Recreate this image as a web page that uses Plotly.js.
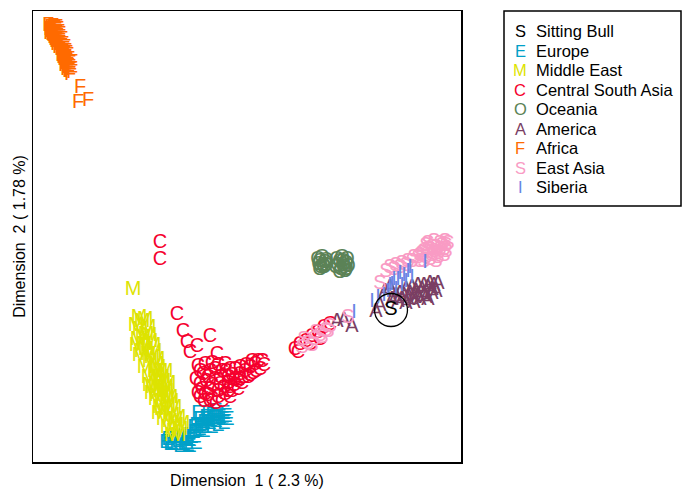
<!DOCTYPE html>
<html>
<head>
<meta charset="utf-8">
<script src="https://cdn.plot.ly/plotly-3.0.1.min.js"></script>
<style>html,body{margin:0;padding:0;background:#fff}#chart{width:687px;height:489px}</style>
</head>
<body>
<div id="chart"></div>
<script>
// ---- data (Dimension 1, Dimension 2) ----
const groupNames = ["Sitting Bull","Europe","Middle East","Central South Asia","Oceania","America","Africa","East Asia","Siberia"];
const groupLetters = ["S","E","M","C","O","A","F","S","I"];

const sittingBullX = [0.141];
const sittingBullY = [-0.010];

const europeX = [-0.082,-0.078,-0.072,-0.066,-0.060,-0.076,-0.068,-0.062,-0.056,-0.054,-0.050,-0.044,-0.038,-0.032,-0.026,-0.048,-0.040,-0.034,-0.028,-0.044,-0.052,-0.064,-0.074,-0.080,
  -0.084,-0.070,-0.062,-0.058,-0.052,-0.056,-0.050,-0.046,-0.042,-0.036,-0.030,-0.024,-0.022,-0.038,-0.032,-0.026,-0.050,-0.054,-0.060,-0.070,-0.064,-0.042,-0.034,-0.046];
const europeY = [-0.140,-0.144,-0.142,-0.145,-0.141,-0.137,-0.138,-0.136,-0.133,-0.126,-0.120,-0.118,-0.116,-0.116,-0.114,-0.128,-0.124,-0.122,-0.120,-0.128,-0.114,-0.144,-0.145,-0.145,
  -0.143,-0.147,-0.146,-0.138,-0.132,-0.128,-0.126,-0.123,-0.120,-0.119,-0.118,-0.117,-0.120,-0.128,-0.126,-0.124,-0.130,-0.144,-0.147,-0.138,-0.140,-0.114,-0.112,-0.132];

const middleEastX = [-0.117,-0.108,-0.110,-0.104,-0.112,-0.106,-0.100,-0.108,-0.102,-0.096,-0.100,-0.094,-0.092,-0.095,-0.094,-0.088,-0.092,-0.090,-0.084,-0.089,-0.086,-0.080,-0.088,-0.082,-0.076,-0.084,-0.078,-0.072,-0.080,-0.074,-0.070,-0.076,-0.094,-0.090,-0.085,-0.082,
  -0.111,-0.105,-0.102,-0.114,-0.107,-0.101,-0.113,-0.097,-0.110,-0.104,-0.098,-0.093,-0.105,-0.090,-0.101,-0.087,-0.097,-0.093,-0.084,-0.098,-0.088,-0.079,-0.091,-0.086,-0.075,-0.082,-0.078,-0.072,-0.068,-0.083,-0.094,-0.100];
const middleEastY = [0.010,-0.022,-0.030,-0.035,-0.040,-0.045,-0.042,-0.052,-0.055,-0.052,-0.062,-0.065,-0.068,-0.072,-0.076,-0.078,-0.082,-0.086,-0.088,-0.092,-0.096,-0.098,-0.102,-0.106,-0.108,-0.112,-0.116,-0.118,-0.122,-0.126,-0.130,-0.132,-0.100,-0.108,-0.072,-0.084,
  -0.018,-0.020,-0.028,-0.026,-0.038,-0.036,-0.046,-0.046,-0.056,-0.050,-0.058,-0.060,-0.068,-0.072,-0.078,-0.082,-0.088,-0.096,-0.092,-0.094,-0.110,-0.102,-0.114,-0.120,-0.120,-0.128,-0.136,-0.136,-0.124,-0.098,-0.085,-0.086];

const centralSouthAsiaX = [-0.090,-0.090,-0.073,-0.067,-0.040,-0.063,-0.053,-0.060,-0.033,-0.052,-0.047,-0.050,-0.045,-0.040,-0.035,-0.030,-0.025,-0.038,-0.032,-0.020,-0.015,-0.010,-0.005,0.000,0.005,0.010,0.012,-0.002,-0.012,-0.022,-0.028,-0.042,-0.050,-0.054,-0.020,-0.008,0.003,-0.035,-0.025,-0.015,-0.045,-0.040,-0.018,
  -0.050,-0.044,-0.038,-0.032,-0.026,-0.022,-0.018,-0.012,-0.006,0.000,0.006,0.008,0.014,0.002,-0.004,-0.010,-0.020,-0.030,-0.040,-0.048,-0.042,-0.034,-0.028,-0.022,-0.016,-0.010,-0.024,-0.032,-0.038,-0.046,-0.052,
  0.045,0.050,0.056,0.062,0.068,0.074,0.080,0.060,0.070,0.048];
const centralSouthAsiaY = [0.057,0.040,-0.015,-0.032,-0.037,-0.043,-0.047,-0.053,-0.055,-0.067,-0.075,-0.085,-0.095,-0.090,-0.080,-0.085,-0.095,-0.100,-0.098,-0.088,-0.080,-0.075,-0.072,-0.068,-0.065,-0.070,-0.062,-0.078,-0.090,-0.078,-0.072,-0.078,-0.098,-0.080,-0.098,-0.084,-0.074,-0.070,-0.065,-0.070,-0.065,-0.102,-0.092,
  -0.072,-0.082,-0.086,-0.092,-0.088,-0.084,-0.076,-0.082,-0.078,-0.076,-0.072,-0.062,-0.066,-0.062,-0.066,-0.068,-0.070,-0.078,-0.072,-0.090,-0.096,-0.104,-0.102,-0.092,-0.086,-0.080,-0.072,-0.066,-0.064,-0.102,-0.094,
  -0.050,-0.045,-0.042,-0.037,-0.033,-0.028,-0.025,-0.045,-0.040,-0.053];

const oceaniaX = [0.070,0.073,0.075,0.071,0.090,0.093,0.096,0.091,0.094,0.088,0.096,
  0.068,0.072,0.076,0.069,0.074,0.076,0.070,0.087,0.092,0.097,0.086,0.090,0.095,0.098,0.093];
const oceaniaY = [0.038,0.034,0.037,0.032,0.038,0.034,0.036,0.030,0.032,0.034,0.030,
  0.040,0.042,0.039,0.035,0.032,0.034,0.030,0.040,0.042,0.040,0.032,0.027,0.028,0.033,0.038];

const americaX = [0.087,0.102,0.094,0.130,0.135,0.142,0.148,0.154,0.160,0.166,0.172,0.178,0.184,0.182,0.174,0.164,0.156,0.168,0.150,0.140,0.126,
  0.158,0.164,0.170,0.176,0.182,0.186,0.188,0.180,0.174,0.162,0.168,0.152,0.156,0.146,0.178];
const americaY = [-0.022,-0.027,-0.021,-0.006,0.008,0.000,-0.002,0.004,0.006,0.008,0.010,0.012,0.014,0.006,0.004,0.002,0.010,0.014,0.006,0.012,-0.012,
  0.000,-0.003,0.000,0.002,0.010,0.008,0.016,0.016,0.014,0.012,0.004,0.000,-0.004,0.004,0.000];

const africaX = [-0.200,-0.198,-0.196,-0.194,-0.200,-0.197,-0.193,-0.198,-0.195,-0.192,-0.199,-0.191,-0.196,-0.193,-0.190,-0.188,-0.194,-0.192,-0.188,-0.186,-0.184,-0.187,-0.183,-0.185,-0.182,-0.180,-0.184,-0.181,-0.178,-0.189,-0.186,-0.183,
  -0.202,-0.197,-0.193,-0.201,-0.195,-0.192,-0.199,-0.190,-0.201,-0.194,-0.197,-0.193,-0.190,-0.195,-0.191,-0.189,-0.187,-0.190,-0.185,-0.187,-0.184,-0.182,-0.188,-0.185,-0.181,-0.180,-0.186,-0.183,-0.179,-0.182,-0.178,-0.180,
  -0.170,-0.172,-0.162];
const africaY = [0.272,0.271,0.270,0.269,0.268,0.267,0.266,0.264,0.263,0.262,0.265,0.267,0.260,0.258,0.256,0.260,0.255,0.252,0.248,0.245,0.242,0.240,0.238,0.236,0.234,0.232,0.230,0.228,0.237,0.244,0.250,0.246,
  0.274,0.273,0.272,0.270,0.271,0.270,0.269,0.265,0.266,0.265,0.262,0.260,0.262,0.258,0.255,0.253,0.255,0.250,0.252,0.247,0.248,0.244,0.242,0.240,0.240,0.236,0.234,0.232,0.230,0.228,0.227,0.225,
  0.212,0.197,0.199];

const eastAsiaX = [0.052,0.058,0.064,0.070,0.076,0.080,0.066,0.054,0.062,0.072,0.078,0.098,
  0.140,0.146,0.152,0.158,0.164,0.170,0.174,0.180,0.186,0.192,0.178,0.184,0.190,0.194,0.176,0.182,0.188,0.170,0.130,0.195,
  0.172,0.178,0.184,0.190,0.196,0.180,0.188,0.194,0.176,0.182,0.196,0.198,0.168,0.162,0.156,0.150,0.144,0.136,0.174,0.186];
const eastAsiaY = [-0.048,-0.044,-0.040,-0.036,-0.031,-0.027,-0.033,-0.040,-0.046,-0.038,-0.032,-0.018,
  0.032,0.034,0.036,0.038,0.042,0.044,0.048,0.050,0.052,0.054,0.056,0.058,0.056,0.050,0.042,0.044,0.046,0.038,0.016,0.058,
  0.046,0.050,0.048,0.050,0.054,0.040,0.042,0.044,0.054,0.052,0.048,0.056,0.042,0.038,0.034,0.032,0.030,0.028,0.038,0.038];

const siberiaX = [0.104,0.122,0.128,0.138,0.142,0.148,0.154,0.158,0.162,0.146,0.175,
  0.144,0.150,0.156,0.160,0.140,0.152,0.134];
const siberiaY = [-0.013,-0.002,0.002,0.008,0.015,0.020,0.024,0.028,0.022,0.010,0.037,
  0.020,0.026,0.018,0.032,0.014,0.014,0.004];

const xTitle = "Dimension\u00A0\u00A01 (\u00A02.3\u00A0%)";
const yTitle = "Dimension\u00A0\u00A02 (\u00A01.78\u00A0%)";

// ---- styles ----
const colors = {
  "Sitting Bull": "#000000",
  "Europe": "#00A0C8",
  "Middle East": "#DDE300",
  "Central South Asia": "#F5002D",
  "Oceania": "#5B8256",
  "America": "#7A3E63",
  "Africa": "#FF6A00",
  "East Asia": "#F99BC4",
  "Siberia": "#6785E4"
};
const FONT = "Liberation Sans, Arial, Helvetica, sans-serif";
const PT_SIZE = 20;

const series = {
  "Sitting Bull": [sittingBullX, sittingBullY],
  "Europe": [europeX, europeY],
  "Middle East": [middleEastX, middleEastY],
  "Central South Asia": [centralSouthAsiaX, centralSouthAsiaY],
  "Oceania": [oceaniaX, oceaniaY],
  "America": [americaX, americaY],
  "Africa": [africaX, africaY],
  "East Asia": [eastAsiaX, eastAsiaY],
  "Siberia": [siberiaX, siberiaY]
};
const drawOrder = ["Europe","Middle East","Central South Asia","Oceania","America","Africa","East Asia","Siberia","Sitting Bull"];

const traces = [];
drawOrder.forEach(name => {
  const i = groupNames.indexOf(name);
  const [xs, ys] = series[name];
  traces.push({
    type: "scatter", mode: "text", name: name,
    x: xs, y: ys, text: xs.map(() => groupLetters[i]),
    textposition: "middle center",
    textfont: {family: FONT, size: PT_SIZE, color: colors[name]},
    hoverinfo: "skip", showlegend: false, cliponaxis: false
  });
});
// circle around Sitting Bull
traces.push({
  type: "scatter", mode: "markers", x: sittingBullX, y: sittingBullY,
  marker: {symbol: "circle-open", size: 33, color: "#000", line: {width: 1.3, color: "#000"}},
  hoverinfo: "skip", showlegend: false
});

// ---- manual legend ----
const plotL = 33, plotR = 461, plotT = 11, plotB = 462;
const px2paperX = p => (p - plotL) / (plotR - plotL);
const px2paperY = p => (plotB - p) / (plotB - plotT);
const annotations = [];
const legTop = 31.5, legStep = 19.45, symX = 520, txtX = 534;
groupNames.forEach((name, i) => {
  const py = legTop + i * legStep;
  annotations.push({xref: "paper", yref: "paper", x: px2paperX(symX), y: px2paperY(py),
    text: groupLetters[i], showarrow: false, xanchor: "center", yanchor: "middle",
    font: {family: FONT, size: 16.5, color: colors[name]}});
  annotations.push({xref: "paper", yref: "paper", x: px2paperX(txtX), y: px2paperY(py),
    text: name, showarrow: false, xanchor: "left", yanchor: "middle",
    font: {family: FONT, size: 16.5, color: "#000"}});
});
const shapes = [{type: "rect", xref: "paper", yref: "paper",
  x0: px2paperX(504), x1: px2paperX(681), y0: px2paperY(206), y1: px2paperY(11),
  line: {color: "#000", width: 1.5}, fillcolor: "rgba(0,0,0,0)"}];

const axisBase = {showticklabels: false, ticks: "", showgrid: false, zeroline: false,
  showline: true, mirror: true, linecolor: "#000", linewidth: 1.5, fixedrange: true};

const layout = {
  width: 687, height: 489,
  margin: {l: plotL, r: 687 - plotR, t: plotT, b: 489 - plotB, pad: 0},
  paper_bgcolor: "#fff", plot_bgcolor: "#fff",
  font: {family: FONT, color: "#000"},
  showlegend: false,
  xaxis: Object.assign({}, axisBase, {range: [-0.217, 0.211],
    title: {text: xTitle, font: {family: FONT, size: 16, color: "#000"}, standoff: 12}}),
  yaxis: Object.assign({}, axisBase, {range: [-0.162, 0.289],
    title: {text: yTitle, font: {family: FONT, size: 16, color: "#000"}, standoff: 2}}),
  annotations: annotations,
  shapes: shapes
};

Plotly.newPlot("chart", traces, layout, {staticPlot: true, displayModeBar: false});
</script>
</body>
</html>
